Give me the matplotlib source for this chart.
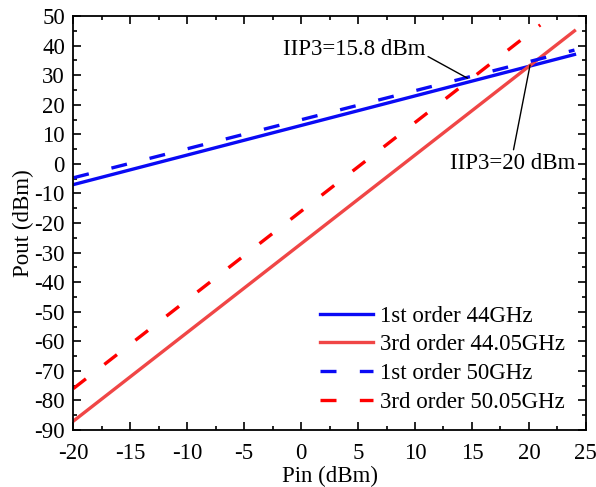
import matplotlib
matplotlib.use('Agg')
import matplotlib.pyplot as plt
from matplotlib.ticker import MultipleLocator

plt.rcParams['font.family'] = ['Liberation Serif', 'DejaVu Serif']
plt.rcParams['font.size'] = 16.5
plt.rcParams['axes.unicode_minus'] = False

# line end points (Pin, Pout)
pin_44 = [-20, 24]
pout_1st_44 = [-7, 37]
pout_3rd_44 = [-87, 45]

pin_50_1st = [-20, 24]
pout_1st_50 = [-4.7, 38.5]
pin_50_3rd = [-20, 21]
pout_3rd_50 = [-76, 47]

labels = ['1st order 44GHz', '3rd order 44.05GHz', '1st order 50GHz', '3rd order 50.05GHz']

fig, ax = plt.subplots(figsize=(5.96, 4.87), dpi=100)
fig.subplots_adjust(left=0.123, right=0.983, top=0.967, bottom=0.117)

dash = (0, (4.8, 7))
ax.plot(pin_44, pout_1st_44, color='#0a0af5', lw=2.4, label=labels[0])
ax.plot(pin_44, pout_3rd_44, color='#f04646', lw=2.4, label=labels[1])
ax.plot(pin_50_1st, pout_1st_50, color='#0a0af5', lw=2.4, ls=dash, label=labels[2])
ax.plot(pin_50_3rd, pout_3rd_50, color='#ff0000', lw=2.4, ls=dash, label=labels[3])

ax.annotate('IIP3=15.8 dBm', xy=(14.6, 29.0), xytext=(10.9, 38.6),
            ha='right', va='center',
            arrowprops=dict(arrowstyle='-', color='black', lw=1, shrinkA=0, shrinkB=0,
                            relpos=(1.0, 0.25)))
ax.annotate('IIP3=20 dBm', xy=(20.1, 33.4), xytext=(18.6, 0.3),
            ha='center', va='center',
            arrowprops=dict(arrowstyle='-', color='black', lw=1, shrinkA=0, shrinkB=0,
                            relpos=(0.5, 1.0)))

ax.set_xlim(-20, 25)
ax.set_ylim(-90, 50)
ax.xaxis.set_major_locator(MultipleLocator(5))
ax.xaxis.set_minor_locator(MultipleLocator(2.5))
ax.yaxis.set_major_locator(MultipleLocator(10))
ax.yaxis.set_minor_locator(MultipleLocator(5))
ax.tick_params(which='both', direction='in', top=True, right=True, width=1.2)
ax.tick_params(which='major', length=6, labelsize=16.5)
ax.tick_params(which='minor', length=3)
ax.tick_params(axis='x', which='major', pad=9)
ax.tick_params(axis='y', which='major', pad=6)
for s in ax.spines.values():
    s.set_linewidth(1.3)

ax.set_xlabel('Pin (dBm)', labelpad=2)
ax.set_ylabel('Pout (dBm)', labelpad=0)

ax.legend(loc='lower right', bbox_to_anchor=(0.977, 0.02), borderaxespad=0,
          frameon=False, handlelength=2.3, handletextpad=0.3, labelspacing=0.33)

fig.savefig('out.png', dpi=100)
